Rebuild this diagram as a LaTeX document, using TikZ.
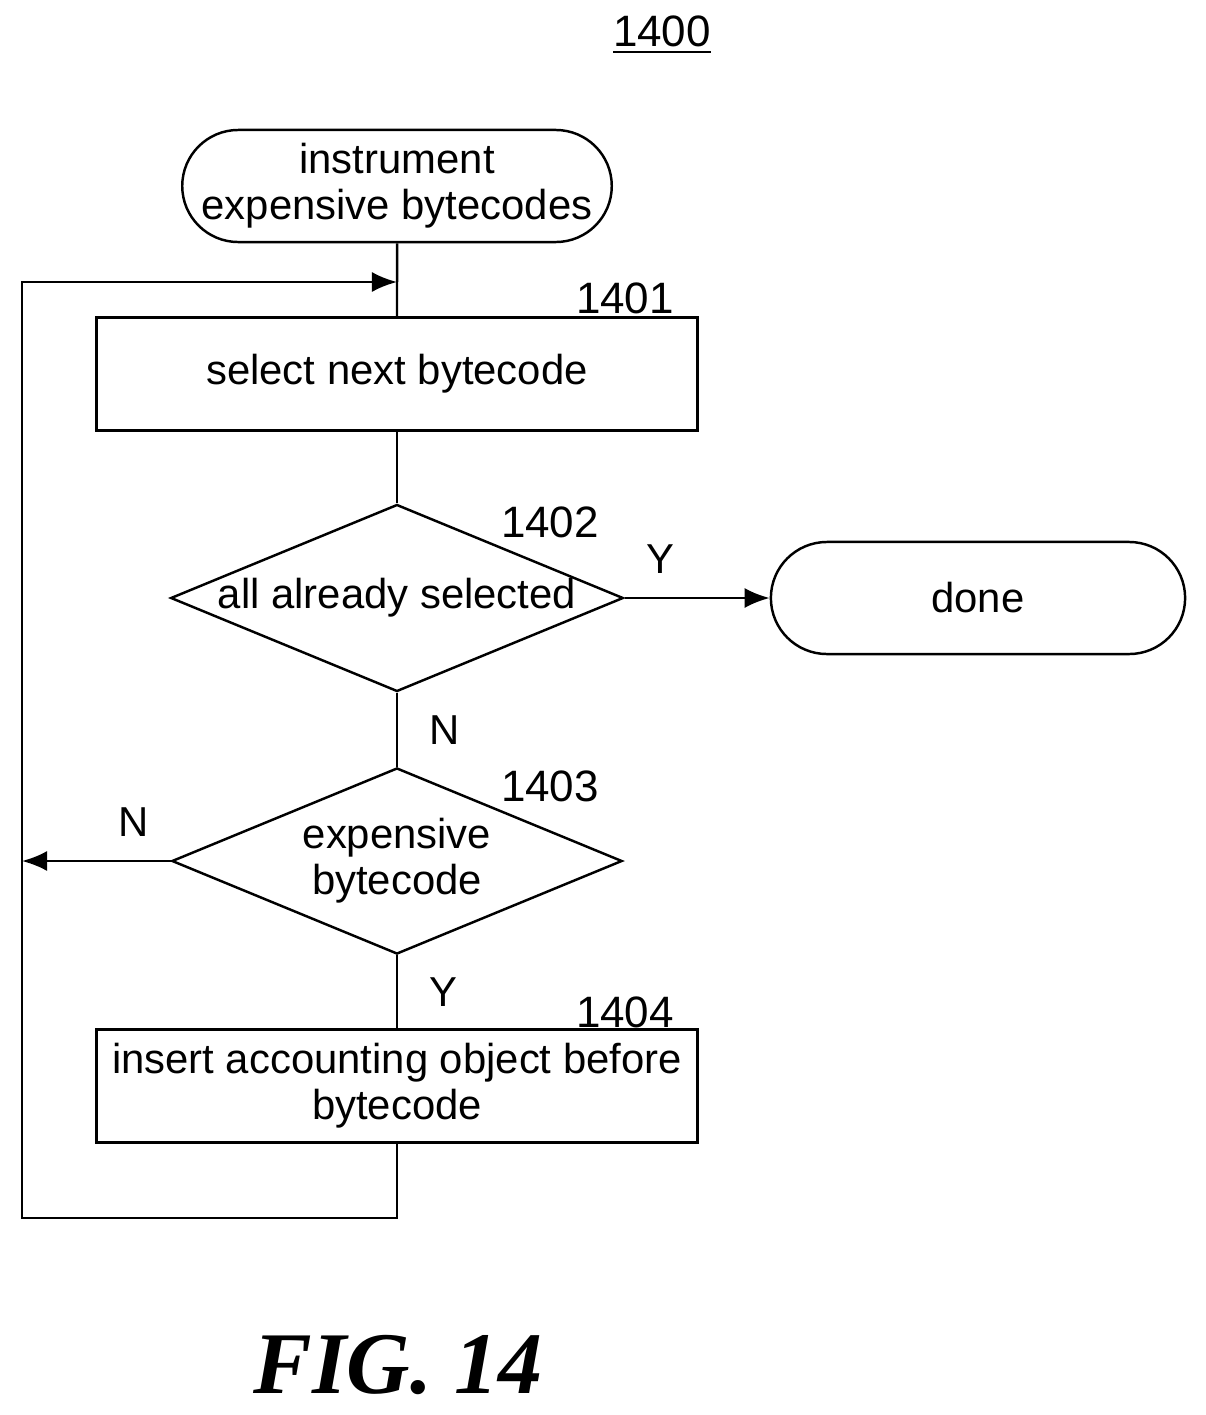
\documentclass[tikz,border=0pt]{standalone}
\usepackage{fontspec}
\setmainfont{Liberation Sans}
\newfontfamily\figfont{Liberation Serif}
\usetikzlibrary{arrows,arrows.meta,positioning,shapes,shapes.geometric}
\tikzset{>={Latex[length=0.25cm,width=0.2cm]}}

\begin{document}
\begin{tikzpicture}[x=0.01cm, y=-0.01cm, line width=0.7pt, font=\fontsize{11.9}{13}\selectfont,
	term/.style={draw, rounded rectangle, minimum width=4.14cm, minimum height=1.12cm, align=center, inner sep=0pt},
	process/.style={draw, minimum width=6.01cm, minimum height=1.13cm, align=center, inner sep=0pt},
	decision/.style={draw, diamond, aspect=2.42, minimum width=4.5cm, minimum height=1.86cm, align=center, inner sep=0pt},
	ref/.style={font=\fontsize{12.5}{14}\selectfont}]
		\useasboundingbox (0,0) rectangle (1206,1415);
		\node[ref] (title) at (662,35) {\underline{1400}};
		
		\node[term] (start) at (397,186) {instrument\\expensive bytecodes};
		\node[process] (select) at (397,374) {select next bytecode};
		\node[decision] (allsel) at (397,598) {all already selected};
		\node[term] (done) at (978,598) {done};
		\node[decision] (expensive) at (397,861) {expensive\\bytecode};
		\node[process] (insert) at (397,1086) {insert accounting object before\\bytecode};
		
		\node[ref] at (625,298) {1401};
		\node[ref] at (550,522) {1402};
		\node[ref] at (550,786) {1403};
		\node[ref] at (625,1012) {1404};
		
		\coordinate (loopin) at (397,282);
		\coordinate (loopbot) at (397,1218);
		\coordinate (loopcorner) at (22,1218);
		\coordinate (looptop) at (22,282);
		\coordinate (nleft) at (22,861);
		
		\draw (start) -- (select);
		\draw (select) -- (allsel);
		\draw[->] (allsel.east) -- node[pos=0.25, above=0.12cm] {Y} (done.west);
		\draw (allsel.south) -- node[right=0.2cm] {N} (expensive.north);
		\draw[->] (expensive.west) -- node[pos=0.25, above=0.12cm] {N} (nleft);
		\draw (expensive.south) -- node[right=0.2cm] {Y} (insert.north);
		\draw[->] (insert.south) -- (loopbot) -- (loopcorner) -- (looptop) -- (loopin);
		
		\node[font=\figfont\bfseries\itshape\fontsize{25}{27}\selectfont] (fig) at (398,1365) {FIG. 14};
	\end{tikzpicture}
\end{document}
